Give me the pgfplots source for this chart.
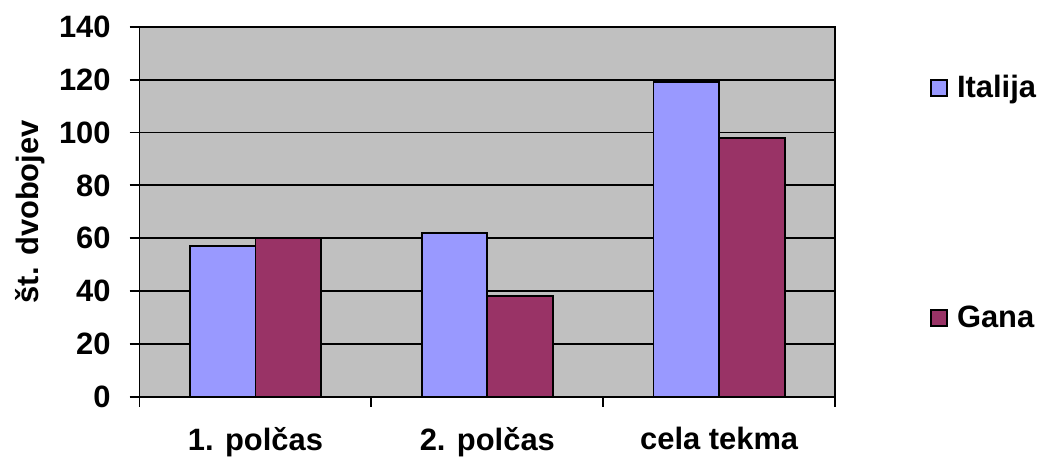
\documentclass[border=0pt]{standalone}
\usepackage{pgfplots}
\pgfplotsset{compat=1.18}
\usepackage{fontspec}
\setmainfont{Liberation Sans}
\definecolor{italija}{HTML}{9999FF}
\definecolor{gana}{HTML}{993366}
\definecolor{ozadje}{HTML}{C0C0C0}
\begin{document}
\begin{tikzpicture}
\begin{axis}[
  name=ax,
  scale only axis,
  width=349pt, height=185.5pt,
  ybar=0pt,
  bar width=0.283,
  xmin=-0.5, xmax=2.5,
  ymin=0, ymax=140,
  ytick={0,20,...,140},
  xtick={0,1,2},
  xticklabels={1. polčas,2. polčas,cela tekma},
  minor xtick={-0.5,0.5,1.5,2.5},
  major x tick style={draw=none},
  tick align=outside,
  major tick length=5pt,
  minor tick length=5pt,
  xtick pos=bottom, ytick pos=left,
  ymajorgrids=true,
  grid style={black, line width=0.9pt},
  axis line style={black, line width=0.9pt},
  every tick/.style={black, line width=0.9pt},
  axis background/.style={fill=ozadje},
  /pgf/number format/assume math mode=true,
  tick label style={font=\fontsize{15.5}{18}\selectfont\bfseries},
  xticklabel style={yshift=-7pt},
  yticklabel style={xshift=-6pt},
  ylabel={št. dvobojev},
  ylabel style={font=\fontsize{15.5}{18}\selectfont\bfseries, at={(axis description cs:0,0.5)}, anchor=center, yshift=55pt},
  legend style={draw=none, fill=none, at={(axis description cs:1,1)}, anchor=north west,
    xshift=47.5pt, yshift=-22pt, inner sep=0pt, row sep=99pt,
    font=\fontsize{15.5}{18}\selectfont\bfseries},
  legend cell align=left,
  legend image code/.code={\draw[#1, line width=0.9pt] (0pt,-4pt) rectangle (8pt,4pt);
    \path[draw=none, fill=none] (0pt,0pt) -- (11pt,0pt);},
]
\addplot[fill=italija, draw=black, line width=0.9pt] coordinates {(0,57) (1,62) (2,119)};
\addplot[fill=gana, draw=black, line width=0.9pt] coordinates {(0,60) (1,38) (2,98)};
\legend{Italija,Gana}
\end{axis}
\path ([xshift=-70pt,yshift=-33pt]ax.south west) rectangle ([xshift=101pt,yshift=13.5pt]ax.north east);
\end{tikzpicture}
\end{document}
